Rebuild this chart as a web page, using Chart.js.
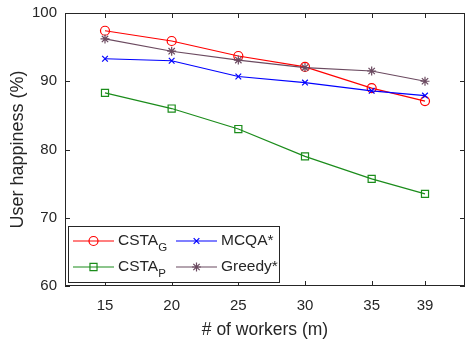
<!DOCTYPE html>
<html>
<head>
<meta charset="utf-8">
<script src="https://cdn.jsdelivr.net/npm/chart.js@4"></script>
<style>
  html, body { margin: 0; padding: 0; background: #fff; }
  #wrap { width: 466px; height: 344px; }
</style>
</head>
<body>
<div id="wrap"><canvas id="chartHappy" width="466" height="344"></canvas></div>
<script>
const workers = [15, 20, 25, 30, 35, 39];
const xTicks = [15, 20, 25, 30, 35, 39];
const yTicks = [60, 70, 80, 90, 100];

const cstaG = [97.4, 95.9, 93.7, 92.1, 89.0, 87.1];
const mcqa = [93.3, 93.0, 90.7, 89.8, 88.6, 87.9];
const cstaP = [88.3, 86.0, 83.0, 79.0, 75.7, 73.5];
const greedy = [96.2, 94.4, 93.1, 92.0, 91.5, 90.0];

const FONT = '"Liberation Sans", Arial, Helvetica, sans-serif';
const AXIS_COLOR = '#262626';

const toPoints = (vals) => vals.map((v, i) => ({ x: workers[i], y: v }));

const series = [
    { label: 'CSTA', sub: 'G', data: cstaG, color: '#ff0000', style: 'circle', radius: 4.5 },
    { label: 'MCQA*', sub: '', data: mcqa, color: '#0000ff', style: 'crossRot', radius: 4 },
    { label: 'CSTA', sub: 'P', data: cstaP, color: '#1b8c1b', style: 'rect', radius: 5 },
    { label: 'Greedy*', sub: '', data: greedy, color: '#6b4a60', style: 'star', radius: 4.5 }
];

// order of drawing: green, blue, greedy, red on top
const drawOrder = [2, 1, 3, 0];

const datasets = drawOrder.map(i => {
    const s = series[i];
    return {
        label: s.label + s.sub,
        data: toPoints(s.data),
        borderColor: s.color,
        backgroundColor: 'rgba(0,0,0,0)',
        borderWidth: 1.2,
        pointStyle: s.style,
        pointRadius: s.radius,
        pointBorderWidth: 1.2,
        pointBorderColor: s.color,
        pointBackgroundColor: 'rgba(0,0,0,0)',
        tension: 0
    };
});

// box, inward ticks and legend like the matlab figure
const frame = {
    id: 'frame',
    afterDraw(chart) {
        const { ctx, chartArea: a, scales } = chart;
        ctx.save();
        ctx.strokeStyle = AXIS_COLOR;
        ctx.lineWidth = 1;
        ctx.strokeRect(a.left + 0.5, a.top + 0.5, a.right - a.left - 1, a.bottom - a.top - 1);
        const t = 5;
        xTicks.forEach(v => {
            const x = Math.round(scales.x.getPixelForValue(v)) + 0.5;
            ctx.beginPath();
            ctx.moveTo(x, a.bottom); ctx.lineTo(x, a.bottom - t);
            ctx.moveTo(x, a.top); ctx.lineTo(x, a.top + t);
            ctx.stroke();
        });
        yTicks.forEach(v => {
            const y = Math.round(scales.y.getPixelForValue(v)) + 0.5;
            ctx.beginPath();
            ctx.moveTo(a.left, y); ctx.lineTo(a.left + t, y);
            ctx.moveTo(a.right, y); ctx.lineTo(a.right - t, y);
            ctx.stroke();
        });

        // legend
        const lx = 68, ly = 226, lw = 211, lh = 56;
        ctx.fillStyle = '#fff';
        ctx.fillRect(lx, ly, lw, lh);
        ctx.strokeStyle = AXIS_COLOR;
        ctx.strokeRect(lx + 0.5, ly + 0.5, lw, lh);
        const cols = [73, 176];
        const rows = [241, 267];
        series.forEach((s, i) => {
            const cx = cols[i % 2], cy = rows[Math.floor(i / 2)];
            ctx.strokeStyle = s.color;
            ctx.lineWidth = 1.2;
            ctx.beginPath();
            ctx.moveTo(cx, cy); ctx.lineTo(cx + 41, cy);
            ctx.stroke();
            ctx.fillStyle = 'rgba(0,0,0,0)';
            Chart.helpers.drawPoint(ctx, { pointStyle: s.style, radius: s.radius, borderWidth: 1.2 }, cx + 20.5, cy);
            ctx.fillStyle = AXIS_COLOR;
            ctx.font = '15.5px ' + FONT;
            ctx.textBaseline = 'middle';
            ctx.textAlign = 'left';
            ctx.fillText(s.label, cx + 45, cy);
            if (s.sub) {
                const w = ctx.measureText(s.label).width;
                ctx.font = '11.5px ' + FONT;
                ctx.fillText(s.sub, cx + 45 + w, cy + 7);
            }
        });
        ctx.restore();
    }
};

const chartHappy = new Chart(document.getElementById('chartHappy').getContext('2d'), {
    type: 'line',
    data: { datasets },
    plugins: [frame],
    options: {
        responsive: false,
        animation: false,
        layout: { autoPadding: false, padding: { top: 13, right: 1, left: 0, bottom: 0 } },
        plugins: { legend: { display: false }, tooltip: { enabled: false } },
        scales: {
            x: {
                type: 'linear',
                min: 12,
                max: 42,
                afterBuildTicks: (scale) => { scale.ticks = xTicks.map(v => ({ value: v })); },
                afterFit: (scale) => { scale.height = 58; scale.paddingLeft = 0; scale.paddingRight = 0; },
                grid: { display: false, drawTicks: false },
                border: { display: false },
                ticks: { color: AXIS_COLOR, font: { family: FONT, size: 15 }, padding: 11, maxRotation: 0 },
                title: { display: true, text: '# of workers (m)', color: AXIS_COLOR, font: { family: FONT, size: 17.5 }, padding: { bottom: 3 } }
            },
            y: {
                min: 60,
                max: 100,
                afterBuildTicks: (scale) => { scale.ticks = yTicks.map(v => ({ value: v })); },
                afterFit: (scale) => { scale.width = 65; scale.paddingTop = 0; scale.paddingBottom = 0; },
                grid: { display: false, drawTicks: false },
                border: { display: false },
                ticks: { color: AXIS_COLOR, font: { family: FONT, size: 15 }, padding: 8 },
                title: { display: true, text: 'User happiness (%)', color: AXIS_COLOR, font: { family: FONT, size: 18 }, padding: { top: 7 } }
            }
        }
    }
});
</script>
</body>
</html>
